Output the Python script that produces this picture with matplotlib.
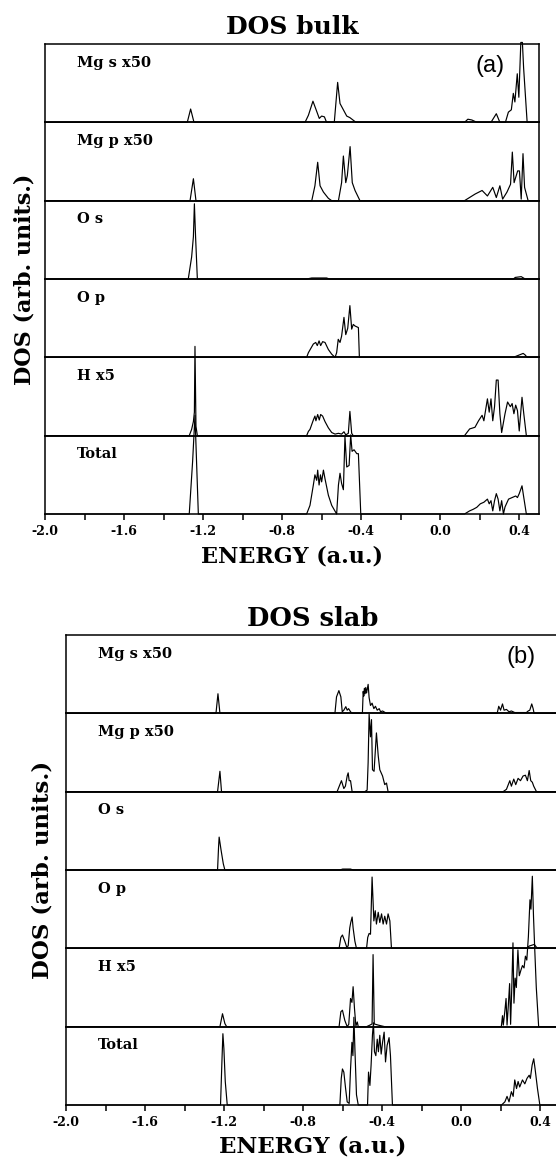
import matplotlib
matplotlib.use("Agg")
import matplotlib.pyplot as plt
import numpy as np

# figure size in pixels (dpi 100)
W, H = 556, 1158

row_labels = ["Mg s x50", "Mg p x50", "O s", "O p", "H x5", "Total"]
tick_values = [-2.0, -1.6, -1.2, -0.8, -0.4, 0.0, 0.4]
minor_values = [-1.8, -1.4, -1.0, -0.6, -0.2, 0.2]

# ---- (a) bulk: energies (a.u.) and DOS (fraction of row height)
bulk_mgs_e = [-2.0, -1.28, -1.263, -1.246, -0.684, -0.667, -0.644, -0.625, -0.612, -0.6, -0.586, -0.575,
              -0.536, -0.519, -0.507, -0.49, -0.473, -0.457, -0.426, 0.123, 0.14, 0.16, 0.186,
              0.257, 0.284, 0.302, 0.33, 0.345, 0.36, 0.37, 0.378, 0.39, 0.398, 0.408, 0.416, 0.422, 0.44, 0.5]
bulk_mgs_v = [0, 0, 0.17, 0, 0, 0.09, 0.27, 0.14, 0.05, 0.08, 0.07, 0,
              0, 0.51, 0.24, 0.16, 0.08, 0.06, 0, 0, 0.04, 0.03, 0,
              0, 0.11, 0, 0, 0.13, 0.16, 0.37, 0.26, 0.62, 0.32, 1.02, 1.02, 0.7, 0, 0]

bulk_mgp_e = [-2.0, -1.266, -1.249, -1.236, -0.65, -0.634, -0.62, -0.608, -0.591, -0.566, -0.549,
              -0.515, -0.499, -0.49, -0.478, -0.47, -0.456, -0.445, -0.431, -0.406,
              0.123, 0.177, 0.212, 0.239, 0.266, 0.284, 0.302, 0.316, 0.338, 0.356, 0.365, 0.374,
              0.392, 0.401, 0.41, 0.419, 0.427, 0.445, 0.5]
bulk_mgp_v = [0, 0, 0.28, 0, 0, 0.19, 0.49, 0.19, 0.11, 0.03, 0,
              0, 0.23, 0.57, 0.23, 0.32, 0.69, 0.23, 0.13, 0,
              0, 0.085, 0.13, 0.06, 0.17, 0.04, 0.19, 0.02, 0.11, 0.21, 0.62, 0.23,
              0.38, 0.38, 0.02, 0.6, 0.17, 0, 0]

bulk_os_e = [-2.0, -1.275, -1.258, -1.249, -1.244, -1.238, -1.229, -0.676, -0.65, -0.575, -0.56,
             0.37, 0.38, 0.41, 0.43, 0.5]
bulk_os_v = [0, 0, 0.28, 0.54, 0.96, 0.54, 0, 0, 0.013, 0.013, 0,
             0, 0.02, 0.03, 0, 0]

bulk_op_e = [-2.0, -0.676, -0.667, -0.642, -0.63, -0.622, -0.613, -0.605, -0.595, -0.583, -0.566, -0.549, -0.532,
             -0.524, -0.516, -0.507, -0.499, -0.487, -0.478, -0.468, -0.457, -0.448, -0.44, -0.431, -0.414, -0.409,
             0.37, 0.39, 0.42, 0.43, 0.44, 0.5]
bulk_op_v = [0, 0, 0.06, 0.17, 0.19, 0.15, 0.21, 0.15, 0.2, 0.19, 0.1, 0.04, 0,
             0.06, 0.23, 0.19, 0.27, 0.51, 0.29, 0.37, 0.66, 0.36, 0.42, 0.4, 0.38, 0,
             0, 0.02, 0.05, 0.03, 0, 0]

bulk_h_e = [-2.0, -1.27, -1.258, -1.249, -1.244, -1.241, -1.236, -1.229,
            -0.676, -0.667, -0.659, -0.642, -0.634, -0.629, -0.62, -0.612, -0.605, -0.595, -0.583, -0.566,
            -0.549, -0.532, -0.515, -0.499, -0.487, -0.478, -0.465, -0.457, -0.448, -0.44,
            0.123, 0.149, 0.176, 0.194, 0.212, 0.221, 0.239, 0.248, 0.257, 0.266, 0.275, 0.284, 0.293,
            0.302, 0.311, 0.328, 0.341, 0.355, 0.364, 0.373, 0.382, 0.391, 0.4, 0.414, 0.423, 0.436, 0.5]
bulk_h_v = [0, 0, 0.08, 0.18, 0.3, 1.14, 0.12, 0,
            0, 0.055, 0.08, 0.2, 0.25, 0.19, 0.27, 0.2, 0.27, 0.25, 0.18, 0.1,
            0.04, 0.02, 0.03, 0.02, 0.05, 0.01, 0.03, 0.31, 0.03, 0,
            0, 0.086, 0.107, 0.19, 0.26, 0.19, 0.47, 0.3, 0.47, 0.19, 0.37, 0.71, 0.71,
            0.28, 0.04, 0.28, 0.43, 0.37, 0.41, 0.28, 0.39, 0.32, 0.06, 0.49, 0.28, 0, 0]

bulk_tot_e = [-2.0, -1.27, -1.253, -1.241, -1.224,
              -0.676, -0.659, -0.642, -0.634, -0.625, -0.62, -0.613, -0.606, -0.6, -0.591, -0.583, -0.566,
              -0.549, -0.524, -0.515, -0.507, -0.499, -0.49, -0.482, -0.473, -0.461, -0.453, -0.446,
              -0.436, -0.422, -0.414, -0.402,
              0.123, 0.149, 0.167, 0.185, 0.203, 0.221, 0.239, 0.248, 0.257, 0.266, 0.275, 0.284, 0.293,
              0.302, 0.311, 0.32, 0.328, 0.346, 0.364, 0.382, 0.391, 0.4, 0.414, 0.423, 0.436, 0.5]
bulk_tot_v = [0, 0, 0.67, 1.26, 0,
              0, 0.11, 0.37, 0.5, 0.43, 0.56, 0.37, 0.5, 0.41, 0.56, 0.45, 0.24,
              0.11, 0, 0.37, 0.52, 0.39, 0.31, 0.99, 0.6, 0.62, 1.01, 0.8,
              0.82, 0.77, 0.77, 0,
              0, 0.04, 0.06, 0.085, 0.13, 0.15, 0.19, 0.13, 0.17, 0.04, 0.17, 0.26, 0.19,
              0.04, 0.17, 0.0, 0.09, 0.19, 0.21, 0.23, 0.21, 0.26, 0.36, 0.21, 0, 0]

# ---- (b) slab
slab_mgs_e = [-2.0, -1.241, -1.231, -1.221,
              -0.639, -0.631, -0.619, -0.609, -0.602, -0.594, -0.584, -0.577, -0.57, -0.56, -0.552,
              -0.5, -0.496, -0.493, -0.49, -0.486, -0.483, -0.479, -0.476, -0.471, -0.466, -0.459,
              -0.451, -0.442, -0.434, -0.425, -0.415, -0.408, -0.398, -0.378,
              0.182, 0.19, 0.199, 0.209, 0.217, 0.229, 0.242, 0.254, 0.271, 0.33, 0.339, 0.347,
              0.357, 0.364, 0.369, 0.5]
slab_mgs_v = [0, 0, 0.25, 0,
              0, 0.21, 0.29, 0.21, 0.02, 0.04, 0.085, 0.04, 0.06, 0.02, 0,
              0, 0.28, 0.22, 0.32, 0.25, 0.33, 0.26, 0.3, 0.37, 0.2, 0.1,
              0.13, 0.06, 0.09, 0.04, 0.06, 0.02, 0.03, 0,
              0, 0.09, 0.04, 0.12, 0.04, 0.05, 0.02, 0.03, 0.01, 0.01, 0.03, 0.04,
              0.12, 0.06, 0, 0]

slab_mgp_e = [-2.0, -1.233, -1.221, -1.213,
              -0.628, -0.614, -0.606, -0.594, -0.586, -0.577, -0.572, -0.567, -0.56, -0.552,
              -0.488, -0.476, -0.471, -0.466, -0.459, -0.454, -0.449, -0.441, -0.429, -0.42, -0.412,
              -0.398, -0.387, -0.378, -0.37,
              0.212, 0.229, 0.246, 0.254, 0.266, 0.276, 0.288, 0.3, 0.313, 0.325, 0.335, 0.344,
              0.352, 0.36, 0.367, 0.381, 0.5]
slab_mgp_v = [0, 0, 0.26, 0,
              0, 0.09, 0.14, 0.04, 0.07, 0.2, 0.24, 0.14, 0.14, 0,
              0, 0.02, 0.37, 0.99, 0.7, 0.92, 0.28, 0.26, 0.75, 0.46, 0.28,
              0.2, 0.09, 0.11, 0,
              0, 0.03, 0.14, 0.07, 0.16, 0.09, 0.17, 0.14, 0.2, 0.21, 0.14, 0.27,
              0.14, 0.12, 0.07, 0, 0]

slab_os_e = [-2.0, -1.233, -1.228, -1.225, -1.215, -1.204, -1.196, -0.614, -0.6, -0.56, -0.547, 0.5]
slab_os_v = [0, 0, 0.29, 0.42, 0.25, 0.08, 0, 0, 0.012, 0.012, 0, 0]

slab_op_e = [-2.0, -0.618, -0.609, -0.601, -0.589, -0.58, -0.572, -0.564, -0.559, -0.552, -0.547, -0.538, -0.53,
             -0.479, -0.473, -0.466, -0.459, -0.451, -0.442, -0.435, -0.429, -0.42, -0.412, -0.403, -0.395,
             -0.387, -0.378, -0.37, -0.361, -0.353, 0.33, 0.345, 0.37, 0.385, 0.5]
slab_op_v = [0, 0, 0.14, 0.17, 0.09, 0.02, 0.03, 0.26, 0.33, 0.4, 0.26, 0.09, 0,
             0, 0.14, 0.19, 0.18, 0.91, 0.35, 0.48, 0.31, 0.46, 0.33, 0.44, 0.31, 0.41, 0.31, 0.44, 0.35, 0,
             0, 0.03, 0.05, 0, 0]

slab_h_e = [-2.0, -1.221, -1.208, -1.196, -1.187,
            -0.618, -0.609, -0.601, -0.589, -0.577, -0.569, -0.56, -0.553, -0.547, -0.54, -0.533, -0.526, -0.521,
            -0.479, -0.462, -0.451, -0.446, -0.44, -0.42, -0.387,
            0.203, 0.209, 0.213, 0.221, 0.227, 0.232, 0.238, 0.245, 0.25, 0.256, 0.262, 0.267, 0.273,
            0.279, 0.287, 0.294, 0.302, 0.31, 0.318, 0.325, 0.332, 0.34, 0.348, 0.353, 0.36, 0.366,
            0.372, 0.38, 0.392, 0.5]
slab_h_v = [0, 0, 0.165, 0.04, 0,
            0, 0.19, 0.21, 0.08, 0, 0.03, 0.36, 0.31, 0.51, 0.23, 0.01, 0.06, 0,
            0, 0.02, 0.035, 0.92, 0.035, 0.02, 0,
            0, 0.14, 0.02, 0.2, 0.36, 0.02, 0.25, 0.55, 0.03, 0.5, 1.07, 0.3, 0.62,
            0.5, 0.98, 0.65, 0.72, 0.78, 0.75, 0.9, 0.85, 1.15, 1.62, 1.5, 1.92, 1.4,
            1.0, 0.5, 0, 0]

slab_tot_e = [-2.0, -1.218, -1.211, -1.206, -1.201, -1.194, -1.184,
              -0.614, -0.607, -0.601, -0.594, -0.585, -0.577, -0.567, -0.56, -0.553, -0.548, -0.543,
              -0.538, -0.53, -0.521,
              -0.474, -0.469, -0.462, -0.456, -0.449, -0.444, -0.439, -0.432, -0.425, -0.419, -0.412,
              -0.405, -0.398, -0.39, -0.383, -0.375, -0.365, -0.358, -0.348,
              0.204, 0.221, 0.232, 0.242, 0.254, 0.263, 0.271, 0.28, 0.288, 0.296, 0.31, 0.322,
              0.333, 0.344, 0.35, 0.359, 0.367, 0.374, 0.386, 0.398, 0.5]
slab_tot_v = [0, 0, 0.55, 0.91, 0.72, 0.3, 0,
              0, 0.34, 0.46, 0.42, 0.21, 0.04, 0.02, 0.46, 0.8, 0.63, 1.12,
              0.72, 0.13, 0,
              0, 0.42, 0.25, 0.51, 0.9, 1.05, 0.68, 0.63, 0.84, 0.68, 0.89,
              0.65, 0.8, 0.93, 0.55, 0.76, 0.86, 0.63, 0,
              0, 0.04, 0.11, 0.04, 0.17, 0.11, 0.32, 0.21, 0.3, 0.23, 0.32, 0.27,
              0.34, 0.38, 0.34, 0.51, 0.59, 0.46, 0.21, 0, 0]

bulk_curves = [(bulk_mgs_e, bulk_mgs_v), (bulk_mgp_e, bulk_mgp_v), (bulk_os_e, bulk_os_v),
               (bulk_op_e, bulk_op_v), (bulk_h_e, bulk_h_v), (bulk_tot_e, bulk_tot_v)]
slab_curves = [(slab_mgs_e, slab_mgs_v), (slab_mgp_e, slab_mgp_v), (slab_os_e, slab_os_v),
               (slab_op_e, slab_op_v), (slab_h_e, slab_h_v), (slab_tot_e, slab_tot_v)]

SERIF = "DejaVu Serif"

fig = plt.figure(figsize=(W / 100, H / 100), dpi=100)


def panel(curves, left, right, top, bottom, tag, tag_x):
    n = len(curves)
    rh = (bottom - top) / n
    for i, (e, v) in enumerate(curves):
        y0 = top + i * rh
        ax = fig.add_axes([left / W, 1 - (y0 + rh) / H, (right - left) / W, rh / H])
        ax.patch.set_visible(False)
        ax.plot(e, v, color="black", lw=0.85, clip_on=False)
        ax.set_xlim(-2.0, 0.5)
        ax.set_ylim(0, 1)
        ax.set_yticks([])
        for s in ax.spines.values():
            s.set_linewidth(1.1)
        ax.text(0.065, 0.76, row_labels[i], transform=ax.transAxes, ha="left", va="center",
                family=SERIF, weight="bold", fontsize=10.5)
        if i == 0:
            ax.text(tag_x, 0.72, tag, transform=ax.transAxes, ha="center", va="center",
                    family="Liberation Sans", fontsize=17)
        if i < n - 1:
            ax.set_xticks([])
        else:
            ax.set_xticks(tick_values)
            ax.set_xticks(minor_values, minor=True)
            ax.set_xticklabels(["%.1f" % t for t in tick_values], family=SERIF,
                               weight="bold", fontsize=9)
            ax.tick_params(axis="x", which="both", direction="out", length=4, width=1.1, pad=4)


panel(bulk_curves, 45, 539, 44, 514, "(a)", 0.9)
panel(slab_curves, 66, 560, 635, 1105, "(b)", 0.922)

fig.text(292 / W, 1 - 27 / H, "DOS bulk", ha="center", va="center", family=SERIF,
         weight="bold", fontsize=18)
fig.text(313 / W, 1 - 619 / H, "DOS slab", ha="center", va="center", family=SERIF,
         weight="bold", fontsize=18.5)
fig.text(25 / W, 1 - 279 / H, "DOS (arb. units.)", ha="center", va="center", rotation=90,
         family=SERIF, weight="bold", fontsize=16)
fig.text(43 / W, 1 - 870 / H, "DOS (arb. units.)", ha="center", va="center", rotation=90,
         family=SERIF, weight="bold", fontsize=16.5)
fig.text(292 / W, 1 - 556 / H, "ENERGY (a.u.)", ha="center", va="center", family=SERIF,
         weight="bold", fontsize=16)
fig.text(313 / W, 1 - 1146 / H, "ENERGY (a.u.)", ha="center", va="center", family=SERIF,
         weight="bold", fontsize=16.5)

fig.savefig("out.png", dpi=100)
